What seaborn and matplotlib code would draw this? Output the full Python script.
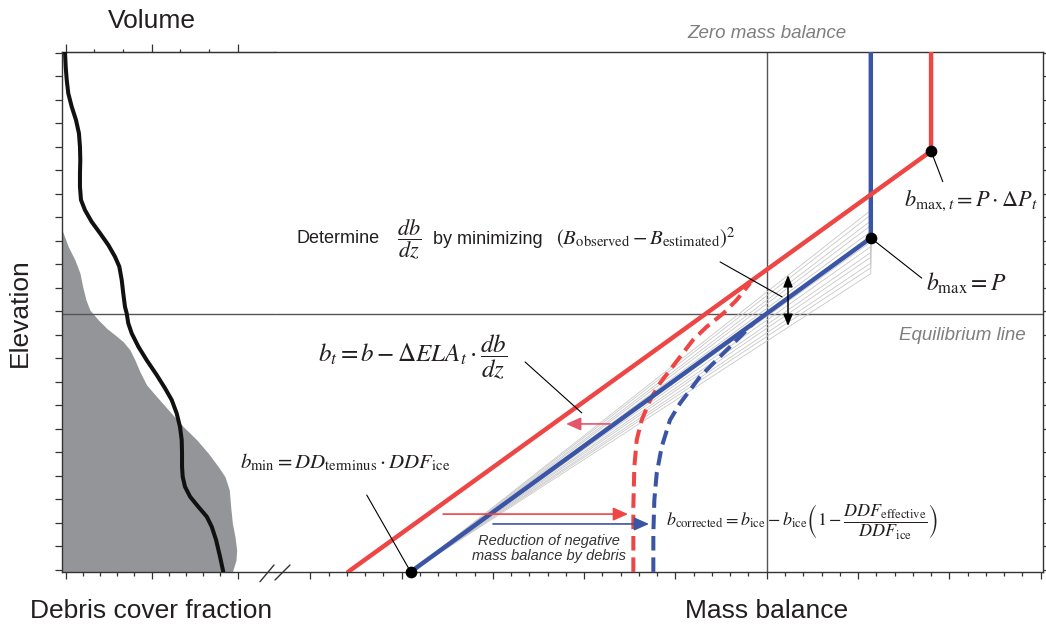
import matplotlib
matplotlib.use("Agg")
import matplotlib.pyplot as plt
import seaborn as sns
import pandas as pd
from matplotlib.lines import Line2D

# ---------------- data ----------------
elev_ticks = list(range(0, 23))
ela = 10.9
z_bottom = -0.1
z_top = 22.1

# left panel: debris cover fraction (grey area) and normalised volume (black line)
debris_z = [14.60, 14.32, 13.75, 13.18, 12.62, 12.04, 11.48, 11.05, 10.63, 10.27, 9.99, 9.70,
            9.35, 8.92, 8.42, 7.86, 7.36, 6.72, 6.08, 5.52, 4.95, 4.38, 3.95, 3.39, 2.67,
            1.97, 1.40, 0.83, 0.40, -0.1]
debris_frac = [-0.03, -0.014, 0.015, 0.054, 0.083, 0.099, 0.118, 0.141, 0.190, 0.239, 0.287,
               0.335, 0.374, 0.403, 0.432, 0.471, 0.530, 0.607, 0.685, 0.763, 0.830, 0.888,
               0.927, 0.952, 0.960, 0.970, 0.985, 0.995, 0.991, 0.970]
volume_z = [22.05, 21.41, 20.85, 20.28, 19.71, 19.14, 18.58, 18.01, 17.44, 16.87, 16.30, 15.74,
            15.31, 14.81, 14.32, 13.82, 13.32, 12.90, 12.33, 11.76, 11.19, 10.91, 10.49, 10.06,
            9.49, 8.92, 8.28, 7.72, 7.22, 6.65, 6.08, 5.52, 4.95, 4.38, 3.95, 3.53, 3.10, 2.67,
            2.25, 1.82, 1.26, 0.55, -0.1]
volume_frac = [-0.004, 0.0, 0.006, 0.015, 0.035, 0.060, 0.077, 0.083, 0.085, 0.083, 0.083, 0.089,
               0.112, 0.151, 0.200, 0.248, 0.287, 0.312, 0.326, 0.335, 0.345, 0.355, 0.364, 0.384,
               0.423, 0.471, 0.530, 0.578, 0.617, 0.646, 0.665, 0.675, 0.677, 0.677, 0.681, 0.694,
               0.724, 0.772, 0.821, 0.850, 0.875, 0.898, 0.917]

# right panel: mass balance profiles
blue_mb = [-3.9, 1.14, 1.14]
blue_z = [-0.1, 14.12, 22.1]
red_mb = [-4.585, 1.80, 1.80]
red_z = [-0.1, 17.82, 22.1]
fan_cap_z = [12.6, 12.85, 13.05, 13.3, 13.5, 13.75, 13.95, 14.2, 14.4, 14.65, 14.85, 15.1, 15.3]
red_dash_mb = [-1.461, -1.461, -1.450, -1.424, -1.369, -1.278, -1.168, -1.059, -0.949,
               -0.807, -0.657, -0.475, -0.329, -0.183]
red_dash_z = [-0.1, 2.67, 4.38, 5.52, 6.37, 7.22, 7.94, 8.50, 9.06, 9.78, 10.34, 10.91, 11.48, 12.19]
blue_dash_mb = [-1.242, -1.242, -1.231, -1.205, -1.150, -1.059, -0.949, -0.840, -0.731,
                -0.585, -0.438, -0.292, -0.147]
blue_dash_z = [-0.1, 1.54, 2.96, 4.10, 5.23, 6.37, 7.08, 7.64, 8.21, 8.78, 9.35, 9.91, 10.49]

# ---------------- style ----------------
sns.set_style("ticks")
plt.rcParams['font.family'] = ['Liberation Sans', 'DejaVu Sans']
plt.rcParams['mathtext.fontset'] = 'stix'

RED = "#EE4545"
BLUE = "#3B55A6"
GREYFILL = "#939598"
AXC = "#333333"
TXT = "#231F20"

W, H = 1046, 627
fig = plt.figure(figsize=(W / 100, H / 100), dpi=100)


def fx(px):
    return px / W


def fy(py):
    return 1 - py / H


ax1 = fig.add_axes([fx(62), fy(572), fx(275) - fx(62), fy(52) - fy(572)])
ax2 = fig.add_axes([fx(275), fy(572), fx(1043) - fx(275), fy(52) - fy(572)])

for ax in (ax1, ax2):
    ax.set_ylim(-0.106, 22.04)
    for s in ax.spines.values():
        s.set_color(AXC)
        s.set_linewidth(1.0)
    ax.set_yticks(elev_ticks)
    ax.set_yticklabels([])
    ax.tick_params(which="both", direction="out", color=AXC, width=0.9)
    ax.tick_params(axis="y", length=5)

# ---- left panel ----
ax1.set_xlim(-0.0215, 1.218)
ax1.spines["right"].set_visible(False)
ax1.set_xticks([0, 0.5, 1.0])
ax1.set_xticks([0.1, 0.2, 0.3, 0.4, 0.6, 0.7, 0.8, 0.9], minor=True)
ax1.set_xticklabels([])
ax1.tick_params(axis="x", which="major", length=5)
ax1.tick_params(axis="x", which="minor", length=3)
ax1.tick_params(axis="y", left=True, right=False)

top = ax1.secondary_xaxis("top")
top.set_xticks([0, 0.5, 1.0])
top.set_xticks([1 / 6, 2 / 6, 4 / 6, 5 / 6], minor=True)
top.set_xticklabels([])
top.tick_params(which="major", direction="out", length=6, color=AXC, width=0.9)
top.tick_params(which="minor", direction="out", length=2.5, color=AXC, width=0.9)
top.spines["top"].set_color(AXC)

ax1.fill_betweenx(debris_z, -0.03, debris_frac, color=GREYFILL, lw=0, zorder=1)
ax1.axhline(ela, color="#555555", lw=1.0, zorder=2)
sns.lineplot(x=volume_frac, y=volume_z, sort=False, estimator=None, ax=ax1,
             color="#111111", lw=2.9, zorder=3)
ax1.lines[-1].set_solid_joinstyle("round")

# ---- right panel ----
ax2.set_xlim(-5.386, 3.026)
ax2.spines["left"].set_visible(False)
ax2.yaxis.tick_right()
ax2.tick_params(axis="y", left=False, right=True)
ax2.set_xticks(list(range(-5, 4)))
ax2.set_xticks([m / 5 for m in range(-25, 16) if m % 5 != 0], minor=True)
ax2.set_xticklabels([])
ax2.tick_params(axis="x", which="major", length=5)
ax2.tick_params(axis="x", which="minor", length=3)

ax2.axhline(ela, color="#555555", lw=1.0, zorder=1)
ax2.axvline(0, color="#555555", lw=1.0, zorder=1)

fan_rows = []
for i, zc in enumerate(fan_cap_z):
    fan_rows += [(i, blue_mb[0], blue_z[0]), (i, blue_mb[1], zc), (i, blue_mb[1], z_top)]
fan = pd.DataFrame(fan_rows, columns=["fan", "mb", "z"])
sns.lineplot(data=fan, x="mb", y="z", units="fan", estimator=None, sort=False,
             color="#C8C8C8", lw=0.6, ax=ax2, zorder=2)

for mbs, zs, col in ((red_dash_mb, red_dash_z, RED), (blue_dash_mb, blue_dash_z, BLUE)):
    sns.lineplot(x=mbs, y=zs, sort=False, estimator=None, ax=ax2, color=col, lw=2.9, zorder=3)
    ln = ax2.lines[-1]
    ln.set_dashes([3.6, 1.7])
    ln.set_clip_on(False)

sns.lineplot(x=blue_mb, y=blue_z, sort=False, estimator=None, ax=ax2, color=BLUE, lw=3.2, zorder=4)
sns.lineplot(x=red_mb, y=red_z, sort=False, estimator=None, ax=ax2, color=RED, lw=3.2, zorder=5)

ax2.scatter([blue_mb[0], blue_mb[1], red_mb[1]], [blue_z[0], blue_z[1], red_z[1]],
            s=55, color="black", zorder=7, clip_on=False)

for ax in (ax1, ax2):
    ax.set_xlabel("")
    ax.set_ylabel("")

# leader lines
lk = dict(color="black", lw=0.8, zorder=6, clip_on=False)
ax2.plot([-0.511, 0.168], [13.10, 11.61], **lk)
ax2.plot([-2.647, -2.026], [8.84, 6.67], **lk)
ax2.plot([red_mb[1], 1.928], [red_z[1], 16.52], **lk)
ax2.plot([blue_mb[1], 1.698], [blue_z[1], 12.41], **lk)
ax2.plot([-4.381, blue_mb[0]], [3.17, blue_z[0]], **lk)


# arrows
def arrow(tail, tip, color, style="-|>", hl=0.45, hw=0.2, lw=1.2):
    ax2.annotate("", xy=tip, xytext=tail,
                 arrowprops=dict(arrowstyle=f"{style},head_length={hl},head_width={hw}",
                                 color=color, lw=lw, shrinkA=0, shrinkB=0,
                                 mutation_scale=20), zorder=6)


arrow((-1.716, 6.20), (-2.198, 6.20), "#E4576A")
arrow((-3.545, 2.36), (-1.519, 2.36), RED)
arrow((-2.998, 1.94), (-1.289, 1.94), BLUE)
arrow((0.233, 10.37), (0.233, 12.54), "black", style="<|-|>", hl=0.35, hw=0.14, lw=1.1)

# break marks on the bottom axis
for (x0, y0, x1, y1) in ((260, 581.7, 274, 565), (275, 580, 290, 565)):
    fig.add_artist(Line2D([fx(x0), fx(x1)], [fy(y0), fy(y1)], color=AXC, lw=1.0))

# axis titles
lab = dict(fontsize=19, color=TXT, ha="center", va="center")
fig.text(fx(151.7), fy(21), "Volume", **lab)
fig.text(fx(151), fy(611), "Debris cover fraction", **lab)
fig.text(fx(766.5), fy(611), "Mass balance", **lab)
fig.text(fx(20), fy(313), "Elevation", rotation=90, **lab)

grey = dict(fontsize=13.5, color="#7F7F7F", fontstyle="italic", ha="center", va="center")
fig.text(fx(767), fy(33), "Zero mass balance", **grey)
fig.text(fx(962), fy(336), "Equilibrium line", **grey)

fig.text(fx(549), fy(548.5), "Reduction of negative\nmass balance by debris", fontsize=10.5,
         fontstyle="italic", color="#333333", ha="center", va="center", linespacing=1.1)

# equations
fig.text(fx(296.7), fy(239), "Determine", fontsize=13, color=TXT, ha="left", va="center")
fig.text(fx(409), fy(240), r"$\dfrac{db}{dz}$", fontsize=16, color=TXT, ha="center", va="center")
fig.text(fx(433), fy(240), "by minimizing", fontsize=13, color=TXT, ha="left", va="center")
fig.text(fx(646), fy(238), r"$(B_{\mathrm{observed}}-B_{\mathrm{estimated}})^2$", fontsize=15,
         color=TXT, ha="center", va="center")
fig.text(fx(413), fy(357), r"$b_t = b - \Delta ELA_t \cdot \dfrac{db}{dz}$", fontsize=18,
         color=TXT, ha="center", va="center")
fig.text(fx(971), fy(201), r"$b_{\mathrm{max},t} = P \cdot \Delta P_t$", fontsize=16,
         color=TXT, ha="center", va="center")
fig.text(fx(966.5), fy(283), r"$b_{\mathrm{max}} = P$", fontsize=17, color=TXT,
         ha="center", va="center")
fig.text(fx(345.5), fy(462), r"$b_{\mathrm{min}} = DD_{\mathrm{terminus}} \cdot DDF_{\mathrm{ice}}$",
         fontsize=15, color=TXT, ha="center", va="center")
fig.text(fx(802), fy(521.5),
         r"$b_{\mathrm{corrected}} = b_{\mathrm{ice}} - b_{\mathrm{ice}}\left(1 - \dfrac{DDF_{\mathrm{effective}}}{DDF_{\mathrm{ice}}}\right)$",
         fontsize=13, color=TXT, ha="center", va="center")

fig.savefig("out.png", dpi=100)
